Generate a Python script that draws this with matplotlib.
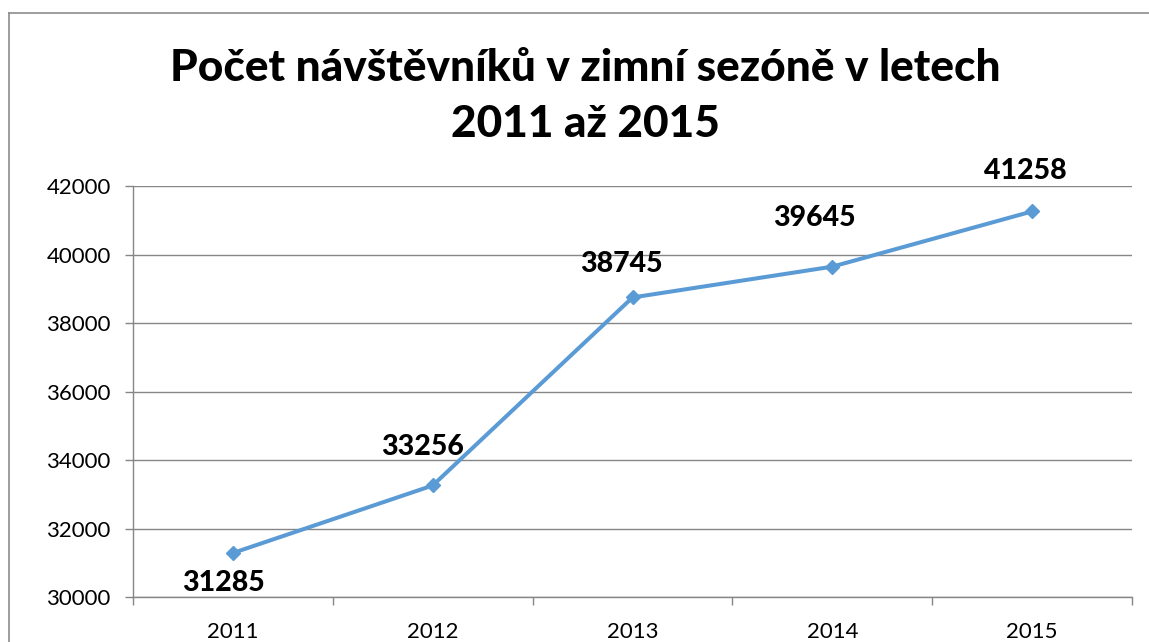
import matplotlib
matplotlib.use("Agg")
import matplotlib.pyplot as plt
from matplotlib.lines import Line2D

# Chart data
years = ["2011", "2012", "2013", "2014", "2015"]
visitors = [31285, 33256, 38745, 39645, 41258]
y_ticks = [30000, 32000, 34000, 36000, 38000, 40000, 42000]

title = "Počet návštěvníků v zimní sezóně v letech\n2011 až 2015"

# label offsets in pixels (dx, dy) relative to each point
label_offsets = [(-9, -30), (-10, 38), (-11, 33), (-18, 49), (-7, 40)]

LINE_COLOR = "#5B9BD5"
GRID_COLOR = "#868686"

plt.rcParams["font.family"] = ["Lato", "DejaVu Sans"]

W, H = 1149, 642
fig = plt.figure(figsize=(W / 100, H / 100), dpi=100)
ax = fig.add_axes([133 / W, 1 - 597 / H, (1132 - 133) / W, (597 - 186) / H])

x = list(range(len(years)))
ax.plot(x, visitors, color=LINE_COLOR, lw=2.9, marker="D", markersize=7.5,
        zorder=3, solid_capstyle="round")

for xi, v, (dx, dy) in zip(x, visitors, label_offsets):
    ax.annotate(str(v), (xi, v), xytext=(dx * 0.72, dy * 0.72), textcoords="offset points",
                ha="center", va="center", fontsize=20.5, fontweight="black", color="black")

ax.set_xlim(-0.5, len(years) - 0.5)
ax.set_ylim(y_ticks[0], y_ticks[-1])
ax.set_yticks(y_ticks)
ax.set_yticklabels([str(t) for t in y_ticks])
ax.set_xticks(x)
ax.set_xticklabels(years)
ax.set_xticks([i - 0.5 for i in range(len(years) + 1)], minor=True)

ax.tick_params(axis="x", which="major", length=0, labelsize=16, pad=18)
ax.tick_params(axis="x", which="minor", length=6, width=1, color=GRID_COLOR, direction="out")
ax.tick_params(axis="y", length=6, width=1, color=GRID_COLOR, labelsize=16, pad=10)

ax.yaxis.grid(True, color=GRID_COLOR, lw=1)
ax.set_axisbelow(True)
for side in ["top", "right"]:
    ax.spines[side].set_visible(False)
for side in ["left", "bottom"]:
    ax.spines[side].set_color(GRID_COLOR)
    ax.spines[side].set_linewidth(1)

fig.text(585 / W, 1 - 96 / H, title, ha="center", va="center", fontsize=31.8,
         fontweight="black", linespacing=1.5)

# chart frame (cropped at right and bottom)
fig.add_artist(Line2D([9 / W, 9 / W], [0, 1 - 13 / H], transform=fig.transFigure,
                      color="#8c8c8c", lw=1.2))
fig.add_artist(Line2D([9 / W, 1], [1 - 13 / H, 1 - 13 / H], transform=fig.transFigure,
                      color="#8c8c8c", lw=1.2))

fig.savefig("out.png", dpi=100)
